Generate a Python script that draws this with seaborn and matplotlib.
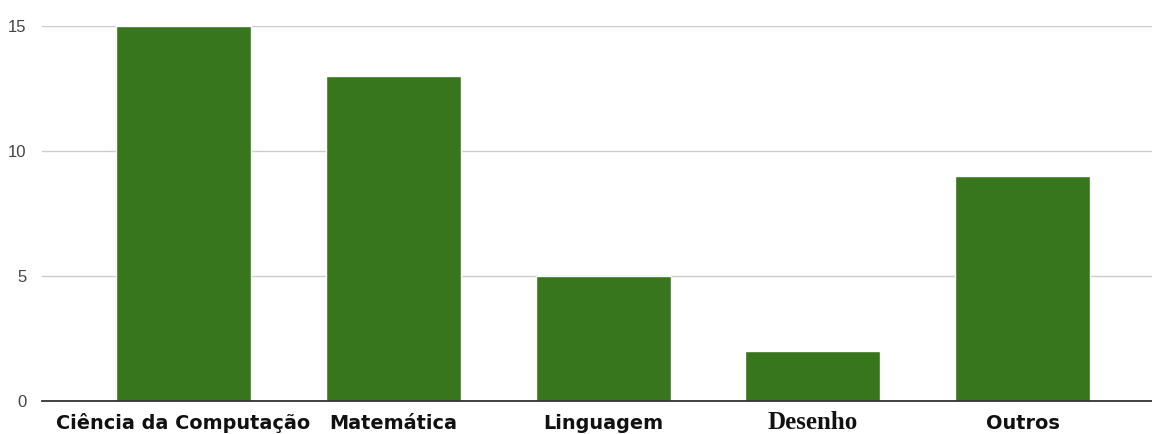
import matplotlib
matplotlib.use("Agg")
import matplotlib.pyplot as plt
import seaborn as sns
import pandas as pd

# Areas of interest and how many answers each received
categories = ["Ciência da Computação", "Matemática", "Linguagem", "Desenho", "Outros"]
counts = [15, 13, 5, 2, 9]
y_ticks = [0, 5, 10, 15]

df = pd.DataFrame({"area": categories, "count": counts})

sns.set_theme(style="white")
plt.rcParams["font.family"] = ["DejaVu Sans"]

fig = plt.figure(figsize=(11.52, 4.34), dpi=100)
ax = fig.add_axes([42 / 1152, 33 / 434, 1 - 42 / 1152, (401 - 25.5) / 434])

sns.barplot(data=df, x="area", y="count", color="#38761d", saturation=1,
            width=0.643, ax=ax, zorder=3)

ax.set_ylim(0, 15)
ax.set_xlim(-0.675, 4.617)
ax.set_yticks(y_ticks)
ax.set_yticklabels([str(t) for t in y_ticks], family="Liberation Sans",
                   fontsize=12, color="#444444")
ax.tick_params(axis="y", length=0, pad=11)
# category names share a common baseline just below the axis line
ax.tick_params(axis="x", length=0, pad=20.5)

ax.grid(axis="y", color="#cccccc", linewidth=1, zorder=0)
ax.set_axisbelow(True)
for side in ["top", "right", "left"]:
    ax.spines[side].set_visible(False)
ax.spines["bottom"].set_color("#333333")
ax.spines["bottom"].set_linewidth(1.3)
ax.spines["bottom"].set_zorder(4)

ax.set_xlabel("")
ax.set_ylabel("")

labels = ax.get_xticklabels()
for lbl in labels:
    lbl.set_fontsize(13.9)
    lbl.set_fontweight("bold")
    lbl.set_color("#111111")
    lbl.set_verticalalignment("baseline")
labels[3].set_family("Liberation Serif")
labels[3].set_fontsize(18)
labels[3].set_fontweight("bold")

fig.savefig("out.png", dpi=100)
